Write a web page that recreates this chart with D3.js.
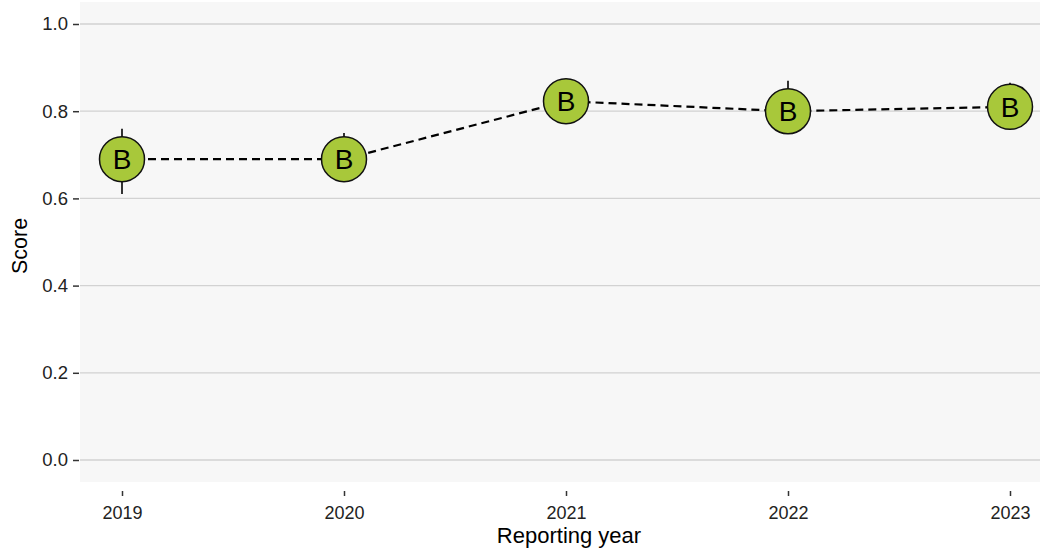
<!DOCTYPE html>
<html><head><meta charset="utf-8">
<script src="https://cdn.jsdelivr.net/npm/d3@7/dist/d3.min.js"></script>
<style>body{margin:0;background:#fff}svg{display:block}</style>
</head><body>
<svg id="c" width="1040" height="549"></svg>
<script>
const years = ["2019","2020","2021","2022","2023"];
const scores = [0.69, 0.69, 0.823, 0.80, 0.81];
const lower = [0.61, 0.64, 0.79, 0.75, 0.77];
const upper = [0.76, 0.75, 0.84, 0.87, 0.865];
const grades = ["B","B","B","B","B"];
const yTicks = [0, 0.2, 0.4, 0.6, 0.8, 1.0];

const svg = d3.select("#c");
const font = "'Liberation Sans', Arial, Helvetica, sans-serif";
const x = d3.scalePoint().domain(years).range([122, 1010]);
const y = d3.scaleLinear().domain([0, 1]).range([460, 24]);
const panel = {x0: 80, x1: 1040, y0: 2, y1: 482};

svg.append("rect").attr("x", panel.x0).attr("y", panel.y0)
  .attr("width", panel.x1 - panel.x0).attr("height", panel.y1 - panel.y0)
  .attr("fill", "#f7f7f7");

// gridlines
svg.selectAll("line.grid").data(yTicks).enter().append("line")
  .attr("x1", panel.x0).attr("x2", panel.x1)
  .attr("y1", d => y(d)).attr("y2", d => y(d))
  .attr("stroke", "#d2d2d2").attr("stroke-width", 1.3);

// y axis
const yAxis = d3.axisLeft(y).tickValues(yTicks).tickFormat(d3.format(".1f")).tickSize(6).tickPadding(5);
const gy = svg.append("g").attr("transform", `translate(${panel.x0 - 1},0)`).call(yAxis);
gy.select(".domain").remove();
gy.selectAll("line").attr("stroke", "#333").attr("stroke-width", 1.5);
gy.selectAll("text").attr("font-family", font).attr("font-size", 18.5).attr("fill", "#222");

// x axis
const xAxis = d3.axisBottom(x).tickSize(5).tickPadding(10);
const gx = svg.append("g").attr("transform", `translate(0,${panel.y1 + 9})`).call(xAxis);
gx.select(".domain").remove();
gx.selectAll("line").attr("stroke", "#333").attr("stroke-width", 1.5);
gx.selectAll("text").attr("font-family", font).attr("font-size", 18).attr("fill", "#222");

// axis titles
svg.append("text").attr("x", 569).attr("y", 543).attr("text-anchor", "middle")
  .attr("font-family", font).attr("font-size", 22).attr("fill", "#000").text("Reporting year");
svg.append("text").attr("transform", "translate(27,246) rotate(-90)").attr("text-anchor", "middle")
  .attr("font-family", font).attr("font-size", 21.5).attr("fill", "#000").text("Score");

const data = years.map((yr, i) => ({yr, s: scores[i], lo: lower[i], hi: upper[i], g: grades[i]}));

// error bars
svg.selectAll("line.err").data(data).enter().append("line")
  .attr("x1", d => x(d.yr)).attr("x2", d => x(d.yr))
  .attr("y1", d => y(d.lo)).attr("y2", d => y(d.hi))
  .attr("stroke", "#000").attr("stroke-width", 1.6);

// dashed line
svg.append("path").datum(data)
  .attr("d", d3.line().x(d => x(d.yr)).y(d => y(d.s)))
  .attr("fill", "none").attr("stroke", "#000").attr("stroke-width", 2.2)
  .attr("stroke-dasharray", "8,5");

// circles
svg.selectAll("circle.pt").data(data).enter().append("circle")
  .attr("cx", d => x(d.yr)).attr("cy", d => y(d.s)).attr("r", 22.5)
  .attr("fill", "#a8c83a").attr("stroke", "#111").attr("stroke-width", 1.5);

svg.selectAll("text.lab").data(data).enter().append("text")
  .attr("x", d => x(d.yr)).attr("y", d => y(d.s) + 10)
  .attr("text-anchor", "middle").attr("font-family", font).attr("font-size", 28)
  .attr("fill", "#000").text(d => d.g);
</script>
</body></html>
